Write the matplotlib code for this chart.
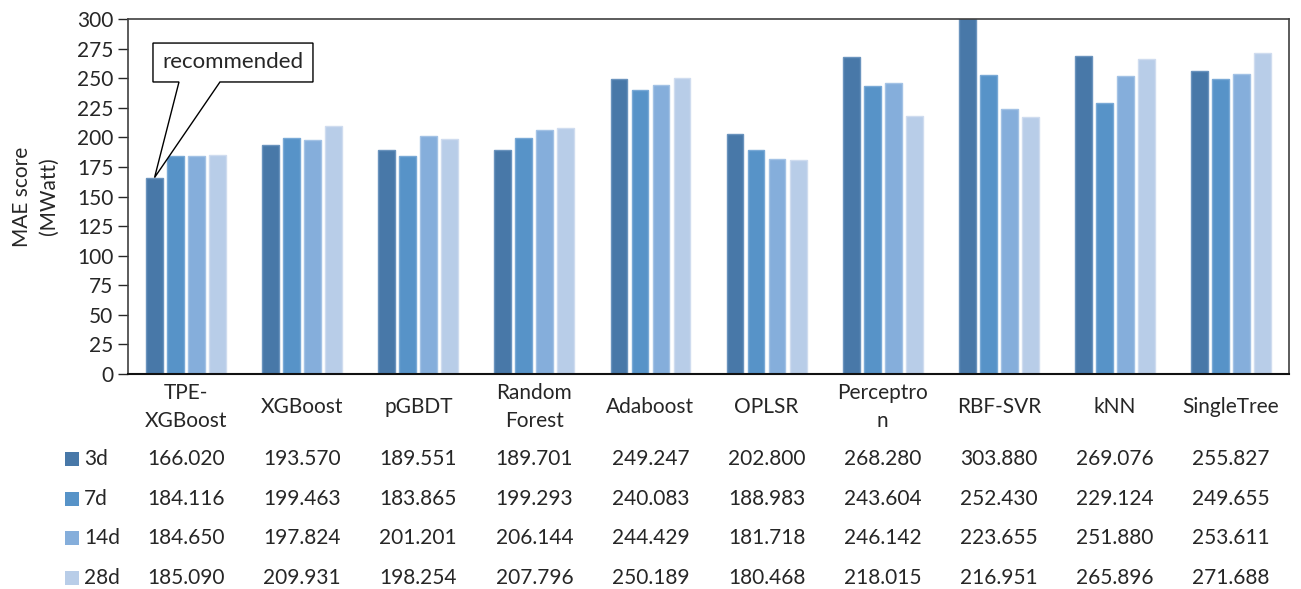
import numpy as np
import matplotlib.pyplot as plt
from matplotlib.patches import Polygon, Rectangle
from matplotlib.transforms import blended_transform_factory

plt.rcParams['font.family'] = ['Lato', 'DejaVu Sans']

models = ['TPE-\nXGBoost', 'XGBoost', 'pGBDT', 'Random\nForest', 'Adaboost',
          'OPLSR', 'Perceptro\nn', 'RBF-SVR', 'kNN', 'SingleTree']
horizons = ['3d', '7d', '14d', '28d']
mae_3d = [166.020, 193.570, 189.551, 189.701, 249.247, 202.800, 268.280, 303.880, 269.076, 255.827]
mae_7d = [184.116, 199.463, 183.865, 199.293, 240.083, 188.983, 243.604, 252.430, 229.124, 249.655]
mae_14d = [184.650, 197.824, 201.201, 206.144, 244.429, 181.718, 246.142, 223.655, 251.880, 253.611]
mae_28d = [185.090, 209.931, 198.254, 207.796, 250.189, 180.468, 218.015, 216.951, 265.896, 271.688]
series = [mae_3d, mae_7d, mae_14d, mae_28d]

colors = ['#4878a8', '#5793c8', '#85aedb', '#b8cde8']
edges = ['#6a93bd', '#79a9d6', '#a3c2e5', '#cfdcef']
txt = '#262626'
fs = 15

fig = plt.figure(figsize=(13.01, 5.89), dpi=100)
ax = fig.add_axes([0.0984, 0.365, 0.8924, 0.6027])

x = np.arange(len(models))
slot = 0.181
bar_w = 0.145
for i, (vals, c, e) in enumerate(zip(series, colors, edges)):
    ax.bar(x + (i - 1.5) * slot, vals, width=bar_w, color=c, edgecolor=e,
           linewidth=1.0, zorder=2)

ax.set_xlim(-0.5, len(models) - 0.5)
ax.set_ylim(0, 300)
ax.set_yticks(np.arange(0, 301, 25))
ax.tick_params(axis='y', labelsize=fs, colors=txt, length=7, width=1, direction='out')
ax.tick_params(axis='x', length=0, labelbottom=False)
for s in ['top', 'right', 'left']:
    ax.spines[s].set_color('#404040')
    ax.spines[s].set_linewidth(1.2)
ax.spines['bottom'].set_color('#111111')
ax.spines['bottom'].set_linewidth(1.5)
ax.set_ylabel('MAE score\n(MWatt)', fontsize=fs, color=txt, labelpad=13, linespacing=1.45)

# callout pointing at the recommended model
tip = (0 - 1.5 * slot, mae_3d[0])
box = [(-0.285, 279.7), (1.093, 279.7), (1.093, 246.8), (0.292, 246.8), tip,
       (-0.061, 246.8), (-0.285, 246.8)]
ax.add_patch(Polygon(box, closed=True, facecolor='white', edgecolor='black',
                     linewidth=1.0, zorder=5))
ax.text(0.404, 263.8, 'recommended', ha='center', va='center', fontsize=16,
        color=txt, zorder=6)

# data table under the axis
tr = blended_transform_factory(ax.transData, fig.transFigure)
for j, name in enumerate(models):
    ax.text(j, 1 - 407 / 589, name, transform=tr, ha='center', va='center',
            fontsize=fs, color=txt, linespacing=1.5, clip_on=False)

row_y = [459, 499, 538, 578]
for i, (lab, vals, c) in enumerate(zip(horizons, series, colors)):
    yf = 1 - row_y[i] / 589
    fig.patches.append(Rectangle((65 / 1301, yf - 7 / 589), 14 / 1301, 14 / 589,
                                 transform=fig.transFigure, facecolor=c,
                                 edgecolor='none'))
    fig.text(84 / 1301, yf, lab, ha='left', va='center', fontsize=fs, color=txt)
    for j, v in enumerate(vals):
        ax.text(j, yf, f'{v:.3f}', transform=tr, ha='center', va='center',
                fontsize=fs, color=txt, clip_on=False)

fig.savefig('out.png', dpi=100)
